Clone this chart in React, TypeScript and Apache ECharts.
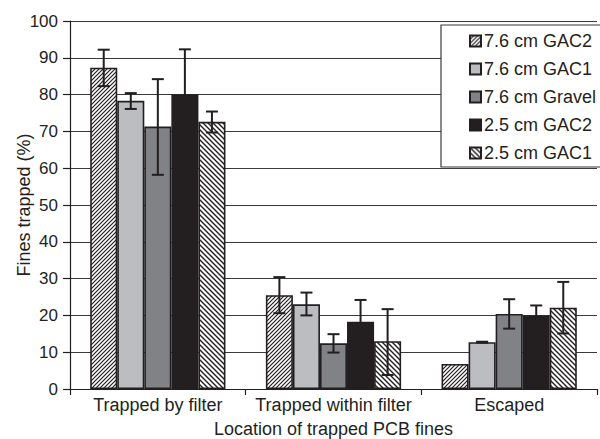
import React, { useEffect, useRef } from "react";
import * as echarts from "echarts";

const categories = ["Trapped by filter", "Trapped within filter", "Escaped"];
const seriesNames = ["7.6 cm GAC2", "7.6 cm GAC1", "7.6 cm Gravel", "2.5 cm GAC2", "2.5 cm GAC1"];
const gac2_76 = [87.3, 25.5, 6.8];
const gac1_76 = [78.3, 23.0, 12.7];
const gravel_76 = [71.3, 12.4, 20.4];
const gac2_25 = [80.1, 18.3, 20.0];
const gac1_25 = [72.6, 13.0, 22.1];
// error bar ranges [low, high] per category (null = none)
const err_gac2_76 = [[82.3, 92.2], [20.6, 30.4], null];
const err_gac1_76 = [[76.1, 80.4], [20.0, 26.2], [12.6, 12.85]];
const err_gravel_76 = [[58.2, 84.2], [9.9, 14.9], [16.4, 24.4]];
const err_gac2_25 = [[67.9, 92.3], [12.4, 24.2], [17.3, 22.7]];
const err_gac1_25 = [[69.7, 75.4], [3.8, 21.7], [15.1, 29.1]];
const yTicks = { min: 0, max: 100, interval: 10 };

const INK = "#231f20";
const FONT = "'Liberation Sans', Arial, sans-serif";

function hatch(dir: "/" | "\\", period: number, lw: number) {
  const c = document.createElement("canvas");
  c.width = period;
  c.height = period;
  const ctx = c.getContext("2d")!;
  ctx.fillStyle = "#ffffff";
  ctx.fillRect(0, 0, period, period);
  ctx.strokeStyle = INK;
  ctx.lineWidth = lw;
  ctx.beginPath();
  const p = period;
  if (dir === "/") {
    for (const o of [-p, 0, p]) {
      ctx.moveTo(o - 1, p + 1);
      ctx.lineTo(o + p + 1, -1);
    }
  } else {
    for (const o of [-p, 0, p]) {
      ctx.moveTo(o - 1, -1);
      ctx.lineTo(o + p + 1, p + 1);
    }
  }
  ctx.stroke();
  return { image: c, repeat: "repeat" } as any;
}

export default function App() {
  const ref = useRef<HTMLDivElement>(null);
  useEffect(() => {
    if (!ref.current) return;
    const chart = echarts.init(ref.current, null, { renderer: "svg" });
    const fills: any[] = [
      hatch("/", 4, 1.2),
      "#bcbdc0",
      "#808285",
      INK,
      hatch("\\", 5, 1.4),
    ];
    const values = [gac2_76, gac1_76, gravel_76, gac2_25, gac1_25];
    const errs = [err_gac2_76, err_gac1_76, err_gravel_76, err_gac2_25, err_gac1_25];
    const gapFrac = 0.23;
    const barSeries = values.map((v, i) => ({
      name: seriesNames[i],
      type: "bar",
      data: v,
      barGap: "0%",
      barCategoryGap: "23%",
      itemStyle: { color: fills[i], borderColor: INK, borderWidth: 1.6 },
      z: 2,
    }));
    const errSeries = errs.map((e, s) => ({
      name: "err" + s,
      type: "custom",
      z: 5,
      silent: true,
      encode: { x: 0, y: [1, 2] },
      data: e
        .map((r, ci) => (r ? [ci, r[0], r[1]] : null))
        .filter((d) => d !== null),
      renderItem: (params: any, api: any) => {
        const cat = api.value(0);
        const lo = api.value(1);
        const hi = api.value(2);
        const bandW = api.size([1, 0])[0];
        const barW = (bandW * (1 - gapFrac)) / 5;
        const pLo = api.coord([cat, lo]);
        const pHi = api.coord([cat, hi]);
        const x = pLo[0] + (s - 2) * barW;
        const cap = 6;
        const st = { stroke: INK, lineWidth: 2 };
        return {
          type: "group",
          children: [
            { type: "line", shape: { x1: x, y1: pLo[1], x2: x, y2: pHi[1] }, style: st },
            { type: "line", shape: { x1: x - cap, y1: pHi[1], x2: x + cap, y2: pHi[1] }, style: st },
            { type: "line", shape: { x1: x - cap, y1: pLo[1], x2: x + cap, y2: pLo[1] }, style: st },
          ],
        };
      },
    }));
    chart.setOption({
      animation: false,
      backgroundColor: "#ffffff",
      textStyle: { fontFamily: FONT, color: INK },
      grid: { left: 70, right: 3, top: 21, bottom: 50, containLabel: false, outerBoundsMode: "none" },
      legend: {
        data: seriesNames,
        orient: "vertical",
        left: 441,
        top: 25,
        padding: [6, 30, 4, 28],
        itemGap: 8,
        itemWidth: 11,
        itemHeight: 11,
        backgroundColor: "#ffffff",
        borderColor: "#3a3a3a",
        borderWidth: 1.2,
        borderRadius: 0,
        icon: "rect",
        textStyle: { fontFamily: FONT, fontSize: 18, color: INK, lineHeight: 20, padding: [0, 0, 0, -2] },
      },
      xAxis: {
        type: "category",
        data: categories,
        name: "Location of trapped PCB fines",
        nameLocation: "middle",
        nameGap: 31,
        nameMoveOverlap: false,
        nameTextStyle: { fontFamily: FONT, fontSize: 18, color: INK },
        axisLine: { lineStyle: { color: INK, width: 1.2 } },
        axisTick: { show: true, length: 6, lineStyle: { color: INK, width: 1.2 } },
        axisLabel: { fontFamily: FONT, fontSize: 18, color: INK, margin: 7, interval: 0, hideOverlap: false },
        splitLine: { show: false },
      },
      yAxis: {
        type: "value",
        min: yTicks.min,
        max: yTicks.max,
        interval: yTicks.interval,
        name: "Fines trapped (%)",
        nameLocation: "middle",
        nameGap: 37,
        nameMoveOverlap: false,
        nameTextStyle: { fontFamily: FONT, fontSize: 18, color: INK },
        axisLine: { show: true, lineStyle: { color: INK, width: 1.2 } },
        axisTick: { show: true, length: 7, lineStyle: { color: INK, width: 1.2 } },
        axisLabel: { fontFamily: FONT, fontSize: 17, color: INK, margin: 12 },
        splitLine: { show: true, lineStyle: { color: "#3a3a3a", width: 1.2 } },
      },
      series: [...barSeries, ...errSeries],
    });
    return () => chart.dispose();
  }, []);
  return (
    <div
      ref={ref}
      style={{ position: "fixed", left: 0, top: 0, width: 600, height: 439 }}
    />
  );
}
